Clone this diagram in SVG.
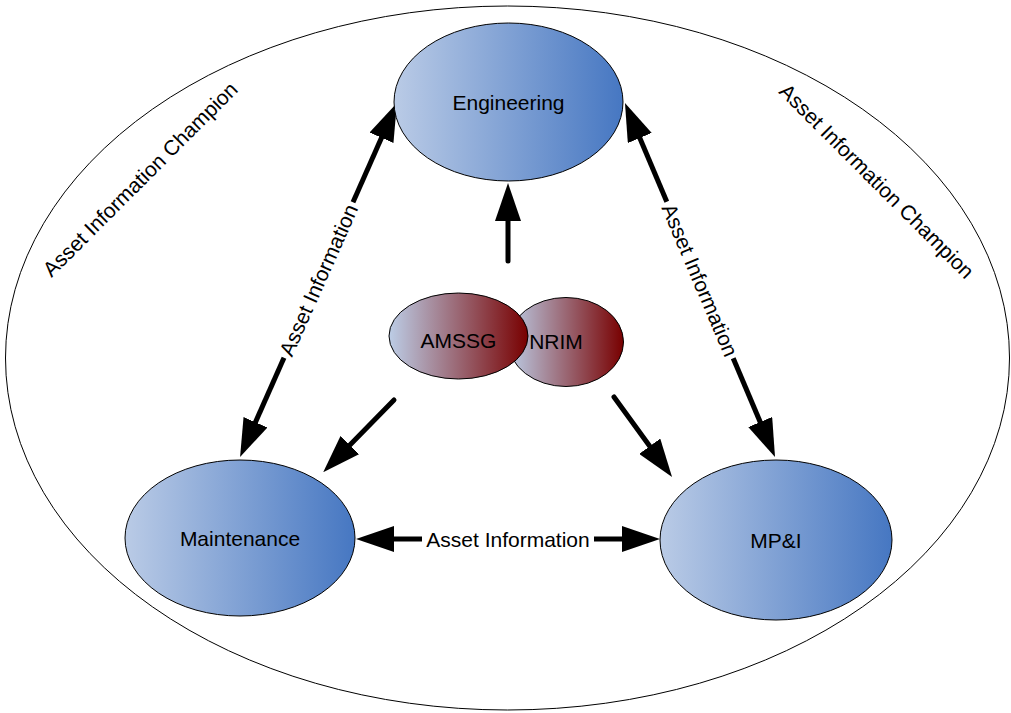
<svg xmlns="http://www.w3.org/2000/svg" width="1011" height="713" viewBox="0 0 1011 713">
  <style>
    .lbl { font-family: "Liberation Sans", Arial, sans-serif; font-size: 21px; fill: #000; text-anchor: middle; dominant-baseline: central; }
    .node { stroke: #000; stroke-width: 1; }
    .flow { stroke: #000; stroke-width: 5; fill: none; marker-end: url(#head); }
    .round { stroke-linecap: round; }
  </style>
  <defs>
    <linearGradient id="blueFill" x1="0" y1="0" x2="1" y2="0">
      <stop offset="0" stop-color="#bacbe6"/>
      <stop offset="1" stop-color="#4677c2"/>
    </linearGradient>
    <linearGradient id="redFill" x1="0" y1="0" x2="1" y2="0">
      <stop offset="0" stop-color="#bccde6"/>
      <stop offset="1" stop-color="#780000"/>
    </linearGradient>
    <marker id="head" viewBox="0 0 38 26" markerUnits="userSpaceOnUse" markerWidth="38" markerHeight="26" refX="10" refY="13" orient="auto">
      <path d="M0,0 L38,13 L0,26 Z" fill="#000"/>
    </marker>
  </defs>

  <!-- boundary: Asset Information Champion -->
  <g id="champion">
    <ellipse cx="507.5" cy="358" rx="502" ry="352" fill="#fff" stroke="#000" stroke-width="1"/>
    <text class="lbl" transform="translate(140,179) rotate(-45)">Asset Information Champion</text>
    <text class="lbl" transform="translate(877,181) rotate(45)">Asset Information Champion</text>
  </g>

  <!-- connectors -->
  <g id="connectors">
    <!-- Maintenance <-> Engineering -->
    <line class="flow" x1="353" y1="202.3" x2="385.6" y2="128.6"/>
    <line class="flow" x1="284" y1="357.7" x2="251.4" y2="431.4"/>
    <text class="lbl" transform="translate(318.5,280) rotate(-66)">Asset Information</text>
    <!-- Engineering <-> MP&I -->
    <line class="flow" x1="666.8" y1="201.7" x2="635.9" y2="128.8"/>
    <line class="flow" x1="733.2" y1="358.3" x2="764.1" y2="431.2"/>
    <text class="lbl" transform="translate(700,280) rotate(67)">Asset Information</text>
    <!-- Maintenance <-> MP&I -->
    <line class="flow" x1="422" y1="539" x2="384" y2="539"/>
    <line class="flow" x1="594" y1="539" x2="632" y2="539"/>
    <text class="lbl" x="508" y="539">Asset Information</text>
    <!-- AMSSG / NRIM outputs -->
    <line class="flow round" x1="508" y1="261" x2="508" y2="211"/>
    <line class="flow round" x1="394" y1="400" x2="342.8" y2="452.2"/>
    <line class="flow round" x1="614" y1="397" x2="655.6" y2="454.3"/>
  </g>

  <g id="engineering">
    <ellipse class="node" cx="508.5" cy="102" rx="114.5" ry="79" fill="url(#blueFill)"/>
    <text class="lbl" x="508.5" y="102">Engineering</text>
  </g>

  <g id="maintenance">
    <ellipse class="node" cx="240" cy="538" rx="115" ry="78" fill="url(#blueFill)"/>
    <text class="lbl" x="240" y="538">Maintenance</text>
  </g>

  <g id="mpi">
    <ellipse class="node" cx="776" cy="540" rx="116" ry="80" fill="url(#blueFill)"/>
    <text class="lbl" x="776" y="540">MP&amp;I</text>
  </g>

  <g id="nrim">
    <ellipse class="node" cx="566" cy="342" rx="57.5" ry="44.5" fill="url(#redFill)"/>
    <text class="lbl" x="556" y="341">NRIM</text>
  </g>

  <g id="amssg">
    <ellipse class="node" cx="458.5" cy="336" rx="69.5" ry="43" fill="url(#redFill)"/>
    <text class="lbl" x="458.5" y="340">AMSSG</text>
  </g>
</svg>
